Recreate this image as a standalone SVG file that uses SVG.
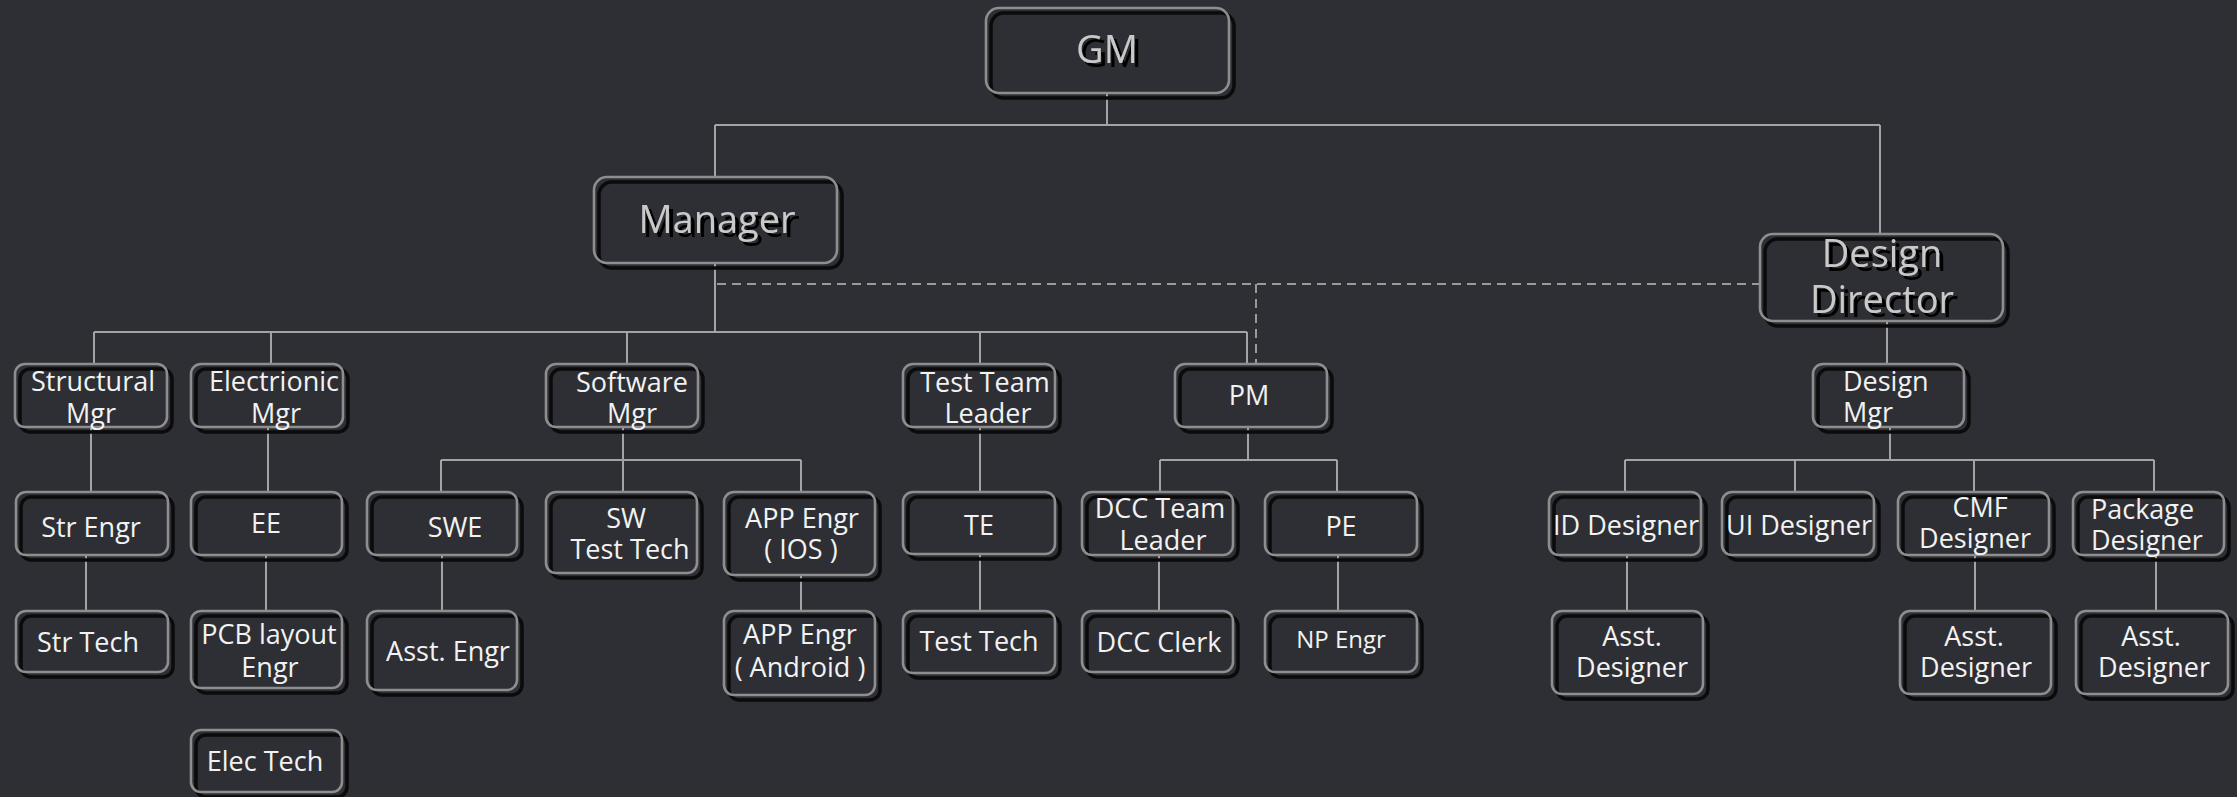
<svg xmlns="http://www.w3.org/2000/svg" width="2237" height="797" viewBox="0 0 2237 797">
<defs>
<filter id="tsh" x="-10%" y="-10%" width="130%" height="140%">
<feDropShadow dx="4" dy="4" stdDeviation="0.6" flood-color="#000" flood-opacity="1"/>
</filter>
</defs>
<style>
.bg{fill:#2e2f34}
.sh{fill:none;stroke:#0b0b0c;stroke-width:3.5}
.bx{fill:none;stroke:#8e8e8e;stroke-width:2.6}
.t{font-family:"Open Sans","Noto Sans",sans-serif;font-size:27px;fill:#f2f2f2;text-anchor:middle}
.tl{text-anchor:start}
.big{font-family:"Open Sans","Noto Sans",sans-serif;font-size:38px;fill:#c9c9c9;text-anchor:middle;filter:url(#tsh)}
.c{stroke:#a3a3a3;stroke-width:2;fill:none}
.d{stroke:#9a9a9a;stroke-width:2;fill:none;stroke-dasharray:9 6}
</style>
<rect class="bg" x="0" y="0" width="2237" height="797"/>
<g id="connectors">
<path class="c" d="M1107 93V125M715 125H1880M715 125V177M1880 125V234"/>
<path class="c" d="M715 263V332M94 332H1247M94 332V364M271 332V364M627 332V364M980 332V364M1247 332V364"/>
<path class="d" d="M717 284H1760M1256 284V364"/>
<path class="c" d="M1887 321V364"/>
<path class="c" d="M91 427V492M86 555V611M268 427V492M266 555V611"/>
<path class="c" d="M623 427V492M441 460H801M441 460V492M801 460V492M442 555V611M801 575V611"/>
<path class="c" d="M980 427V492M980 555V611"/>
<path class="c" d="M1248 427V460M1160 460H1337M1160 460V492M1337 460V492M1159 555V611M1338 555V611"/>
<path class="c" d="M1890 427V460M1625 460H2154M1625 460V492M1795 460V492M1974 460V492M2154 460V492M1627 555V611M1975 555V611M2156 555V611"/>
</g>
<g id="gm">
<rect class="sh" x="991" y="13" width="243" height="85" rx="13"/>
<rect class="bx" x="986" y="8" width="243" height="85" rx="13"/>
<text class="big" x="1107" y="63">GM</text>
</g>
<g id="manager">
<rect class="sh" x="599" y="182" width="243" height="86" rx="13"/>
<rect class="bx" x="594" y="177" width="243" height="86" rx="13"/>
<text class="big" x="717" y="233">Manager</text>
</g>
<g id="design-director">
<rect class="sh" x="1765" y="239" width="243" height="87" rx="13"/>
<rect class="bx" x="1760" y="234" width="243" height="87" rx="13"/>
<text class="big"><tspan x="1882" y="267">Design</tspan><tspan x="1882" y="313">Director</tspan></text>
</g>
<g id="structural-mgr">
<rect class="sh" x="20" y="369" width="152" height="63" rx="10"/>
<rect class="bx" x="15" y="364" width="152" height="63" rx="10"/>
<text class="t"><tspan x="93" y="391">Structural</tspan><tspan x="91" y="423">Mgr</tspan></text>
</g>
<g id="electrionic-mgr">
<rect class="sh" x="196" y="369" width="152" height="63" rx="10"/>
<rect class="bx" x="191" y="364" width="152" height="63" rx="10"/>
<text class="t"><tspan x="274" y="391">Electrionic</tspan><tspan x="276" y="423">Mgr</tspan></text>
</g>
<g id="software-mgr">
<rect class="sh" x="551" y="369" width="152" height="63" rx="10"/>
<rect class="bx" x="546" y="364" width="152" height="63" rx="10"/>
<text class="t"><tspan x="632" y="392">Software</tspan><tspan x="632" y="423">Mgr</tspan></text>
</g>
<g id="test-team-leader">
<rect class="sh" x="908" y="369" width="152" height="63" rx="10"/>
<rect class="bx" x="903" y="364" width="152" height="63" rx="10"/>
<text class="t"><tspan x="985" y="392">Test Team</tspan><tspan x="988" y="423">Leader</tspan></text>
</g>
<g id="pm">
<rect class="sh" x="1180" y="369" width="152" height="63" rx="10"/>
<rect class="bx" x="1175" y="364" width="152" height="63" rx="10"/>
<text class="t" x="1249" y="405">PM</text>
</g>
<g id="design-mgr">
<rect class="sh" x="1818" y="369" width="151" height="63" rx="10"/>
<rect class="bx" x="1813" y="364" width="151" height="63" rx="10"/>
<text class="t tl"><tspan x="1843" y="391">Design</tspan><tspan x="1843" y="422">Mgr</tspan></text>
</g>
<g id="str-engr">
<rect class="sh" x="21" y="497" width="152" height="63" rx="10"/>
<rect class="bx" x="16" y="492" width="152" height="63" rx="10"/>
<text class="t" x="91" y="537">Str Engr</text>
</g>
<g id="ee">
<rect class="sh" x="196" y="497" width="151" height="63" rx="10"/>
<rect class="bx" x="191" y="492" width="151" height="63" rx="10"/>
<text class="t" x="266" y="533">EE</text>
</g>
<g id="swe">
<rect class="sh" x="372" y="497" width="150" height="63" rx="10"/>
<rect class="bx" x="367" y="492" width="150" height="63" rx="10"/>
<text class="t" x="455" y="537">SWE</text>
</g>
<g id="sw-test-tech">
<rect class="sh" x="551" y="497" width="151" height="81" rx="10"/>
<rect class="bx" x="546" y="492" width="151" height="81" rx="10"/>
<text class="t"><tspan x="626" y="528">SW</tspan><tspan x="630" y="559">Test Tech</tspan></text>
</g>
<g id="app-engr-ios">
<rect class="sh" x="729" y="497" width="151" height="83" rx="10"/>
<rect class="bx" x="724" y="492" width="151" height="83" rx="10"/>
<text class="t"><tspan x="802" y="528">APP Engr</tspan><tspan x="801" y="559">( IOS )</tspan></text>
</g>
<g id="te">
<rect class="sh" x="908" y="497" width="152" height="62" rx="10"/>
<rect class="bx" x="903" y="492" width="152" height="62" rx="10"/>
<text class="t" x="979" y="535">TE</text>
</g>
<g id="dcc-team-leader">
<rect class="sh" x="1087" y="497" width="151" height="63" rx="10"/>
<rect class="bx" x="1082" y="492" width="151" height="63" rx="10"/>
<text class="t"><tspan x="1160" y="518">DCC Team</tspan><tspan x="1163" y="550">Leader</tspan></text>
</g>
<g id="pe">
<rect class="sh" x="1270" y="497" width="152" height="63" rx="10"/>
<rect class="bx" x="1265" y="492" width="152" height="63" rx="10"/>
<text class="t" x="1341" y="536">PE</text>
</g>
<g id="id-designer">
<rect class="sh" x="1554" y="497" width="152" height="63" rx="10"/>
<rect class="bx" x="1549" y="492" width="152" height="63" rx="10"/>
<text class="t" x="1626" y="535">ID Designer</text>
</g>
<g id="ui-designer">
<rect class="sh" x="1727" y="497" width="152" height="63" rx="10"/>
<rect class="bx" x="1722" y="492" width="152" height="63" rx="10"/>
<text class="t" x="1799" y="535">UI Designer</text>
</g>
<g id="cmf-designer">
<rect class="sh" x="1903" y="497" width="151" height="63" rx="10"/>
<rect class="bx" x="1898" y="492" width="151" height="63" rx="10"/>
<text class="t"><tspan x="1980" y="517">CMF</tspan><tspan x="1975" y="548">Designer</tspan></text>
</g>
<g id="package-designer">
<rect class="sh" x="2078" y="497" width="151" height="63" rx="10"/>
<rect class="bx" x="2073" y="492" width="151" height="63" rx="10"/>
<text class="t tl"><tspan x="2091" y="519">Package</tspan><tspan x="2091" y="550">Designer</tspan></text>
</g>
<g id="str-tech">
<rect class="sh" x="21" y="616" width="152" height="61" rx="10"/>
<rect class="bx" x="16" y="611" width="152" height="61" rx="10"/>
<text class="t" x="88" y="652">Str Tech</text>
</g>
<g id="pcb-layout-engr">
<rect class="sh" x="196" y="616" width="151" height="77" rx="10"/>
<rect class="bx" x="191" y="611" width="151" height="77" rx="10"/>
<text class="t"><tspan x="269" y="644">PCB layout</tspan><tspan x="270" y="677">Engr</tspan></text>
</g>
<g id="asst-engr">
<rect class="sh" x="372" y="616" width="150" height="79" rx="10"/>
<rect class="bx" x="367" y="611" width="150" height="79" rx="10"/>
<text class="t" x="448" y="661">Asst. Engr</text>
</g>
<g id="app-engr-android">
<rect class="sh" x="729" y="616" width="151" height="84" rx="10"/>
<rect class="bx" x="724" y="611" width="151" height="84" rx="10"/>
<text class="t"><tspan x="800" y="644">APP Engr</tspan><tspan x="800" y="677">( Android )</tspan></text>
</g>
<g id="test-tech">
<rect class="sh" x="908" y="616" width="152" height="62" rx="10"/>
<rect class="bx" x="903" y="611" width="152" height="62" rx="10"/>
<text class="t" x="979" y="651">Test Tech</text>
</g>
<g id="dcc-clerk">
<rect class="sh" x="1087" y="616" width="151" height="61" rx="10"/>
<rect class="bx" x="1082" y="611" width="151" height="61" rx="10"/>
<text class="t" x="1159" y="652">DCC Clerk</text>
</g>
<g id="np-engr">
<rect class="sh" x="1270" y="616" width="152" height="61" rx="10"/>
<rect class="bx" x="1265" y="611" width="152" height="61" rx="10"/>
<text class="t" x="1341" y="648" style="font-size:24px">NP Engr</text>
</g>
<g id="asst-designer-id">
<rect class="sh" x="1557" y="616" width="151" height="83" rx="10"/>
<rect class="bx" x="1552" y="611" width="151" height="83" rx="10"/>
<text class="t"><tspan x="1632" y="646">Asst.</tspan><tspan x="1632" y="677">Designer</tspan></text>
</g>
<g id="asst-designer-cmf">
<rect class="sh" x="1905" y="616" width="151" height="83" rx="10"/>
<rect class="bx" x="1900" y="611" width="151" height="83" rx="10"/>
<text class="t"><tspan x="1974" y="646">Asst.</tspan><tspan x="1976" y="677">Designer</tspan></text>
</g>
<g id="asst-designer-package">
<rect class="sh" x="2081" y="616" width="152" height="83" rx="10"/>
<rect class="bx" x="2076" y="611" width="152" height="83" rx="10"/>
<text class="t"><tspan x="2151" y="646">Asst.</tspan><tspan x="2154" y="677">Designer</tspan></text>
</g>
<g id="elec-tech">
<rect class="sh" x="196" y="735" width="151" height="62" rx="10"/>
<rect class="bx" x="191" y="730" width="151" height="62" rx="10"/>
<text class="t" x="265" y="771">Elec Tech</text>
</g>
</svg>
